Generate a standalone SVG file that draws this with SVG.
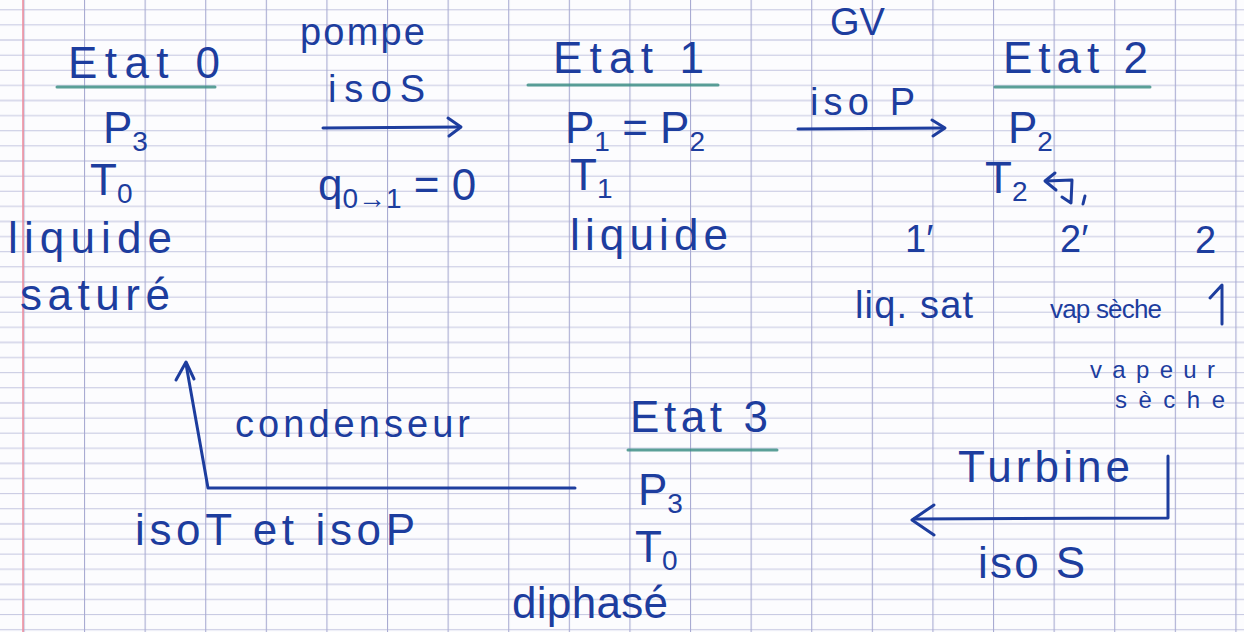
<svg xmlns="http://www.w3.org/2000/svg" width="1244" height="632" viewBox="0 0 1244 632">
  <defs>
    <style>
      .ink { fill: #1d3d9e; font-family: "Liberation Sans", "DejaVu Sans", sans-serif; }
      .big { font-size: 44px; }
      .mid { font-size: 38px; }
      .small { font-size: 26px; }
      .tiny { font-size: 24px; }
      .sub { font-size: 28px; }
      .stroke { fill: none; stroke: #1d3d9e; stroke-width: 3; stroke-linecap: round; stroke-linejoin: round; }
      .uline { fill: none; stroke: #3e8f86; stroke-width: 3; stroke-linecap: round; opacity: 0.85; }
    </style>
    <!-- Seyès ruled paper: thin rows every 15.12px, vertical rules every 60.6px -->
    <pattern id="seyes" patternUnits="userSpaceOnUse" x="84" y="9.3" width="60.6" height="60.48">
      <line x1="0" y1="0.5" x2="60.6" y2="0.5" stroke="#c4c6e0" stroke-width="1"/>
      <line x1="0" y1="15.62" x2="60.6" y2="15.62" stroke="#c4c6e0" stroke-width="1"/>
      <line x1="0" y1="30.74" x2="60.6" y2="30.74" stroke="#b8bad9" stroke-width="1.2"/>
      <line x1="0" y1="45.86" x2="60.6" y2="45.86" stroke="#c4c6e0" stroke-width="1"/>
      <line x1="0.5" y1="0" x2="0.5" y2="60.48" stroke="#a9abd2" stroke-width="1.2"/>
    </pattern>
  </defs>

  <!-- paper -->
  <rect width="1244" height="632" fill="#fcfcfe"/>
  <rect width="1244" height="632" fill="url(#seyes)"/>
  <line x1="23" y1="0" x2="23" y2="632" stroke="#ee8f9f" stroke-width="1.6"/>

  <!-- connectors -->
  <g id="connectors">
    <!-- pump: 0 -> 1 -->
    <path class="stroke" d="M323,128 L460,127"/>
    <path class="stroke" d="M448,118 L461,127 L449,136"/>
    <!-- steam generator: 1 -> 2 -->
    <path class="stroke" d="M798,129 L944,128"/>
    <path class="stroke" d="M932,120 L945,128 L933,136"/>
    <!-- turbine: 2 -> 3 -->
    <path class="stroke" d="M1168,456 L1168,518 L914,519"/>
    <path class="stroke" d="M934,505 L912,520 L934,535"/>
    <!-- condenser: 3 -> 0 -->
    <path class="stroke" d="M575,488 L208,488 L186,364"/>
    <path class="stroke" d="M176,380 L186,362 L194,379"/>
  </g>

  <!-- state 0 -->
  <g id="etat0">
    <text class="ink big" x="68" y="78" textLength="152">Etat 0</text>
    <path class="uline" d="M57,87 L215,87"/>
    <text class="ink big" x="103" y="143">P<tspan class="sub" dy="8">3</tspan></text>
    <text class="ink big" x="90" y="195">T<tspan class="sub" dy="8">0</tspan></text>
    <text class="ink big" x="8" y="253" textLength="164">liquide</text>
    <text class="ink big" x="20" y="310" textLength="150">saturé</text>
  </g>

  <!-- pump label -->
  <g id="pompe">
    <text class="ink mid" x="300" y="45" textLength="125">pompe</text>
    <text class="ink mid" x="328" y="102" textLength="97">isoS</text>
    <text class="ink big" x="318" y="200">q<tspan class="sub" dy="8">0→1</tspan><tspan dy="-8"> = 0</tspan></text>
  </g>

  <!-- state 1 -->
  <g id="etat1">
    <text class="ink big" x="553" y="73" textLength="151">Etat 1</text>
    <path class="uline" d="M528,85 L718,85"/>
    <text class="ink big" x="565" y="143">P<tspan class="sub" dy="8">1</tspan><tspan dy="-8"> = P</tspan><tspan class="sub" dy="8">2</tspan></text>
    <text class="ink big" x="570" y="190">T<tspan class="sub" dy="8">1</tspan></text>
    <text class="ink big" x="570" y="250" textLength="158">liquide</text>
  </g>

  <!-- steam generator label -->
  <g id="gv">
    <text class="ink mid" x="830" y="35">GV</text>
    <text class="ink mid" x="810" y="115" textLength="105">iso P</text>
  </g>

  <!-- state 2 -->
  <g id="etat2">
    <text class="ink big" x="1003" y="73" textLength="145">Etat 2</text>
    <path class="uline" d="M995,87 L1150,87"/>
    <text class="ink big" x="1008" y="143">P<tspan class="sub" dy="8">2</tspan></text>
    <text class="ink big" x="985" y="193">T<tspan class="sub" dy="8">2</tspan></text>
    <!-- hooked arrow pointing back at T2 -->
    <path class="stroke" d="M1055,173 L1045,181 L1056,190"/>
    <path class="stroke" d="M1046,181 L1072,180 L1071,203 L1062,197"/>
    <path class="stroke" d="M1085,196 L1083,204"/>
    <text class="ink mid" x="905" y="252">1′</text>
    <text class="ink mid" x="1060" y="252">2′</text>
    <text class="ink mid" x="1195" y="253">2</text>
    <text class="ink mid" x="855" y="318" textLength="118">liq. sat</text>
    <text class="ink small" x="1050" y="318" textLength="112">vap sèche</text>
    <path class="stroke" d="M1222,324 L1222,285 L1210,298"/>
    <text class="ink tiny" x="1090" y="378" textLength="125">vapeur</text>
    <text class="ink tiny" x="1115" y="408" textLength="110">sèche</text>
  </g>

  <!-- turbine label -->
  <g id="turbine">
    <text class="ink big" x="958" y="482" textLength="172">Turbine</text>
    <text class="ink big" x="978" y="578" textLength="107">iso S</text>
  </g>

  <!-- state 3 -->
  <g id="etat3">
    <text class="ink big" x="630" y="432" textLength="138">Etat 3</text>
    <path class="uline" d="M628,450 L777,450"/>
    <text class="ink big" x="638" y="505">P<tspan class="sub" dy="8">3</tspan></text>
    <text class="ink big" x="635" y="562">T<tspan class="sub" dy="8">0</tspan></text>
    <text class="ink big" x="512" y="618" textLength="156">diphasé</text>
  </g>

  <!-- condenser label -->
  <g id="condenseur">
    <text class="ink mid" x="235" y="437" textLength="235">condenseur</text>
    <text class="ink big" x="135" y="545" textLength="280">isoT et isoP</text>
  </g>
</svg>
